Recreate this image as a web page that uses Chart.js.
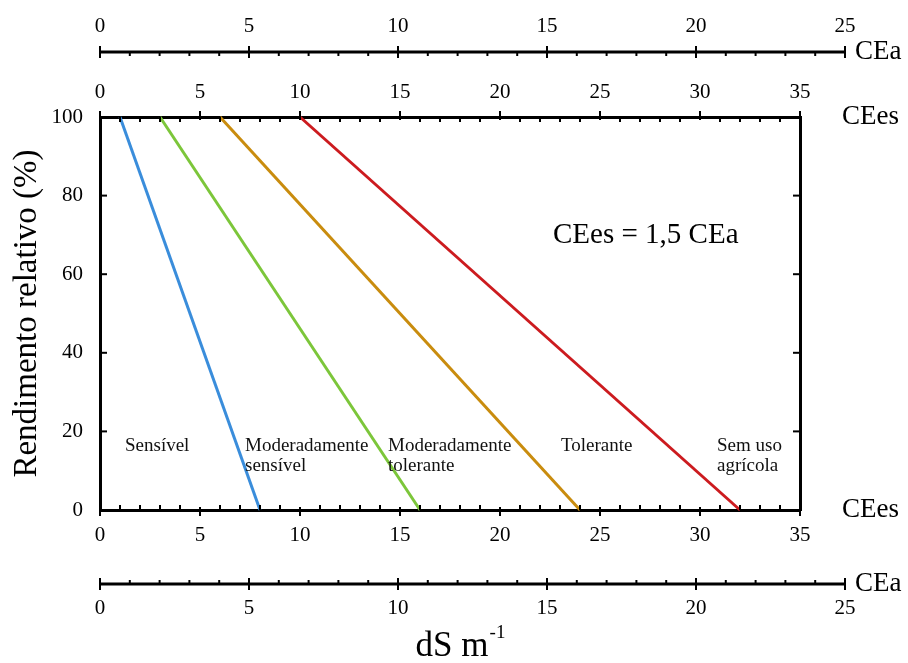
<!DOCTYPE html>
<html>
<head>
<meta charset="utf-8">
<script src="https://cdn.jsdelivr.net/npm/chart.js@4.4.1/dist/chart.umd.min.js"></script>
<style>
  body { margin: 0; background: #fff; }
  #wrap { width: 908px; height: 663px; }
</style>
</head>
<body>
<div id="wrap"><canvas id="salinityChart" width="908" height="663"></canvas></div>
<script>
// tolerance classes: yield falls from 100 % at the threshold to 0 % (CEes, dS/m)
const classes = ["Sensível", "Moderadamente sensível", "Moderadamente tolerante", "Tolerante"];
const thresholdCEes = [1, 3, 6, 10];
const zeroYieldCEes = [8, 16, 24, 32];
const yieldEnds = [100, 0];
const lineColors = ["#3a8ddb", "#7cc63a", "#c98c0e", "#cc1b1f"];

const ceesTicks = [0, 5, 10, 15, 20, 25, 30, 35];
const ceaTicks = [0, 5, 10, 15, 20, 25];
const yieldTicks = [0, 20, 40, 60, 80, 100];

// zone names written inside the plot, anchored in data units
const zoneLabels = [["Sensível"], ["Moderadamente", "sensível"], ["Moderadamente", "tolerante"], ["Tolerante"], ["Sem uso", "agrícola"]];
const zoneLabelX = [1.25, 7.25, 14.4, 23.05, 30.85];
const zoneLabelY = 16.3;

// CEa axis as printed (slightly under the 1.5 of the equation)
const ceaToCees = 1.49;

const serif = "'Liberation Serif', 'Times New Roman', serif";

function seg(ctx, x1, y1, x2, y2) {
  ctx.beginPath();
  ctx.moveTo(x1, y1);
  ctx.lineTo(x2, y2);
  ctx.stroke();
}

const axisDecor = {
  id: "axisDecor",
  afterDraw(chart) {
    const { ctx, chartArea: a, scales: { x, y } } = chart;
    ctx.save();
    ctx.strokeStyle = "#000";
    ctx.fillStyle = "#000";
    ctx.lineWidth = 2;

    // CEes ticks on top and bottom of the frame
    for (let v = 0; v <= ceesTicks[ceesTicks.length - 1]; v++) {
      const px = x.getPixelForValue(v);
      if (v % 5 === 0) {
        seg(ctx, px, a.top - 6, px, a.top + 3);
        seg(ctx, px, a.bottom - 3, px, a.bottom + 6);
      } else {
        seg(ctx, px, a.top, px, a.top + 5);
        seg(ctx, px, a.bottom - 5, px, a.bottom);
      }
    }

    // yield ticks, pointing inward on both sides
    yieldTicks.slice(1, -1).forEach((v) => {
      const py = y.getPixelForValue(v);
      seg(ctx, a.left, py, a.left + 7, py);
      seg(ctx, a.right - 7, py, a.right, py);
    });

    // CEa axes above and below
    const ceaPx = (v) => x.getPixelForValue(v * ceaToCees);
    const ceaMax = ceaTicks[ceaTicks.length - 1];
    [[52, 1, 26], [584, -1, 608]].forEach(([ly, dir, labelY]) => {
      ctx.lineWidth = 3;
      seg(ctx, ceaPx(0), ly, ceaPx(ceaMax), ly);
      ctx.lineWidth = 2;
      for (let v = 0; v <= ceaMax; v++) {
        const px = ceaPx(v);
        if (v % 5 === 0) seg(ctx, px, ly - 6, px, ly + 6);
        else seg(ctx, px, ly, px, ly + 4 * dir);
      }
      ctx.font = `21px ${serif}`;
      ctx.textAlign = "center";
      ctx.textBaseline = "middle";
      ceaTicks.forEach((v) => ctx.fillText(String(v), ceaPx(v), labelY));
      ctx.textAlign = "left";
      ctx.font = `27px ${serif}`;
      ctx.fillText("CEa", ceaPx(ceaMax) + 10, ly);
    });

    ctx.textAlign = "left";
    ctx.textBaseline = "middle";
    ctx.font = `27px ${serif}`;
    ctx.fillText("CEes", a.right + 42, a.top);
    ctx.fillText("CEes", a.right + 42, a.bottom);

    // zone names
    ctx.font = `19px ${serif}`;
    ctx.fillStyle = "#111";
    zoneLabels.forEach((lines, i) => {
      lines.forEach((t, j) => {
        ctx.fillText(t, x.getPixelForValue(zoneLabelX[i]), y.getPixelForValue(zoneLabelY) + j * 20);
      });
    });

    // equation
    ctx.fillStyle = "#000";
    ctx.font = `29px ${serif}`;
    ctx.fillText("CEes = 1,5 CEa", x.getPixelForValue(22.65), y.getPixelForValue(70));

    // x title: dS m-1
    ctx.textBaseline = "alphabetic";
    const big = `35px ${serif}`;
    const small = `19px ${serif}`;
    ctx.font = big;
    const w1 = ctx.measureText("dS m").width;
    ctx.font = small;
    const w2 = ctx.measureText("-1").width;
    const left = (a.left + a.right) / 2 + 10 - (w1 + w2) / 2;
    ctx.font = big;
    ctx.fillText("dS m", left, 656);
    ctx.font = small;
    ctx.fillText("-1", left + w1 + 1, 638);

    ctx.restore();
  },
};

const tickFont = { family: serif, size: 21 };

new Chart(document.getElementById("salinityChart"), {
  type: "scatter",
  data: {
    datasets: classes.map((c, i) => ({
      label: c,
      data: [
        { x: thresholdCEes[i], y: yieldEnds[0] },
        { x: zeroYieldCEes[i], y: yieldEnds[1] },
      ],
      showLine: true,
      borderColor: lineColors[i],
      borderWidth: 3,
      pointRadius: 0,
      clip: false,
    })),
  },
  options: {
    responsive: false,
    animation: false,
    layout: { padding: 0 },
    plugins: {
      legend: { display: false },
      tooltip: { enabled: false },
    },
    scales: {
      x: {
        type: "linear",
        position: "bottom",
        min: ceesTicks[0],
        max: ceesTicks[ceesTicks.length - 1],
        ticks: { stepSize: 5, color: "#000", font: tickFont, padding: 13 },
        grid: { drawOnChartArea: false, drawTicks: false },
        border: { color: "#000", width: 3 },
        afterFit: (s) => { s.height = 153; },
      },
      x2: {
        type: "linear",
        position: "top",
        min: ceesTicks[0],
        max: ceesTicks[ceesTicks.length - 1],
        ticks: { stepSize: 5, color: "#000", font: tickFont, padding: 12 },
        grid: { drawOnChartArea: false, drawTicks: false },
        border: { color: "#000", width: 3 },
        afterFit: (s) => { s.height = 117; },
      },
      y: {
        position: "left",
        min: yieldTicks[0],
        max: yieldTicks[yieldTicks.length - 1],
        ticks: { stepSize: 20, color: "#000", font: tickFont, padding: 17 },
        grid: { drawOnChartArea: false, drawTicks: false },
        border: { color: "#000", width: 3 },
        title: {
          display: true,
          text: "Rendimento relativo (%)",
          color: "#000",
          font: { family: serif, size: 33 },
          padding: { top: 8 },
        },
        afterFit: (s) => { s.width = 100; },
      },
      y2: {
        position: "right",
        min: yieldTicks[0],
        max: yieldTicks[yieldTicks.length - 1],
        ticks: { display: false },
        grid: { drawOnChartArea: false, drawTicks: false },
        border: { color: "#000", width: 3 },
        afterFit: (s) => { s.width = 108; },
      },
    },
  },
  plugins: [axisDecor],
});
</script>
</body>
</html>
